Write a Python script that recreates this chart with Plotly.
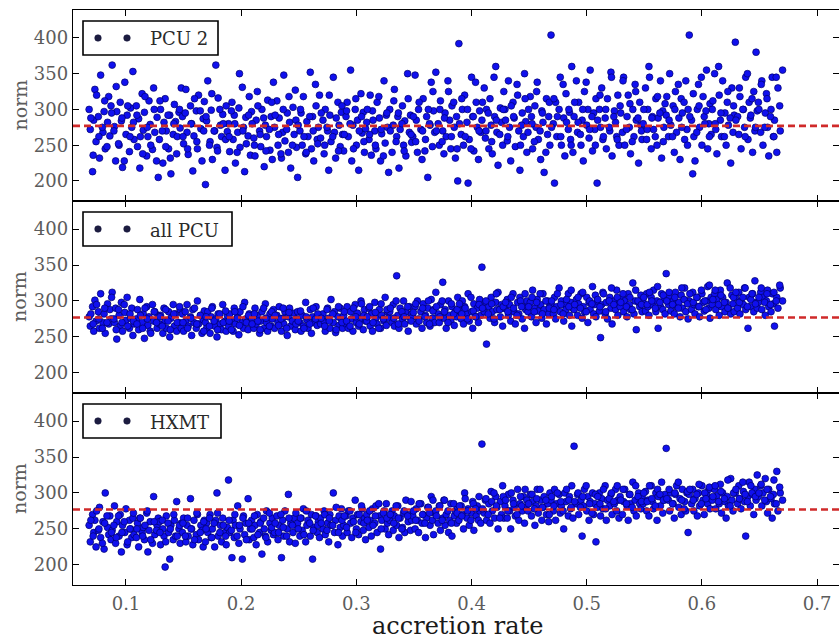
import plotly.graph_objects as go
from plotly.subplots import make_subplots

# accretion rate of each observation (shared by the three detectors)
accretion_rate = [
    0.068,0.069,0.071,0.072,0.073,0.074,0.076,0.077,0.078,0.080,0.081,0.082,0.084,0.085,0.086,0.087,
    0.088,0.090,0.091,0.092,0.094,0.095,0.096,0.097,0.099,0.100,0.101,0.103,0.104,0.105,0.106,0.107,
    0.109,0.110,0.111,0.112,0.114,0.115,0.116,0.118,0.119,0.120,0.121,0.123,0.124,0.125,0.127,0.128,
    0.129,0.130,0.132,0.133,0.134,0.135,0.137,0.138,0.139,0.141,0.142,0.143,0.144,0.146,0.147,0.148,
    0.149,0.150,0.152,0.153,0.154,0.156,0.157,0.158,0.159,0.161,0.162,0.163,0.165,0.166,0.167,0.168,
    0.169,0.170,0.171,0.173,0.174,0.175,0.177,0.178,0.179,0.180,0.182,0.183,0.184,0.186,0.187,0.188,
    0.189,0.190,0.192,0.193,0.194,0.195,0.197,0.198,0.199,0.201,0.202,0.203,0.204,0.206,0.207,0.208,
    0.209,0.211,0.212,0.213,0.214,0.216,0.217,0.218,0.220,0.221,0.222,0.223,0.225,0.226,0.227,0.228,
    0.229,0.231,0.232,0.233,0.235,0.236,0.237,0.238,0.240,0.241,0.242,0.243,0.245,0.246,0.247,0.248,
    0.249,0.251,0.252,0.253,0.254,0.256,0.257,0.258,0.260,0.261,0.262,0.263,0.265,0.266,0.267,0.268,
    0.269,0.271,0.272,0.273,0.275,0.276,0.277,0.278,0.280,0.281,0.282,0.284,0.285,0.286,0.287,0.288,
    0.289,0.291,0.292,0.293,0.295,0.296,0.297,0.299,0.300,0.301,0.302,0.304,0.305,0.306,0.307,0.308,
    0.309,0.311,0.312,0.313,0.314,0.316,0.317,0.318,0.320,0.321,0.322,0.324,0.325,0.326,0.327,0.328,
    0.329,0.331,0.332,0.333,0.335,0.336,0.337,0.338,0.340,0.341,0.342,0.343,0.345,0.346,0.347,0.348,
    0.349,0.351,0.352,0.353,0.354,0.356,0.357,0.358,0.360,0.361,0.362,0.364,0.365,0.366,0.367,0.368,
    0.369,0.371,0.372,0.373,0.375,0.376,0.377,0.378,0.380,0.381,0.382,0.383,0.385,0.386,0.387,0.388,
    0.389,0.391,0.392,0.393,0.394,0.396,0.397,0.398,0.400,0.401,0.402,0.404,0.405,0.406,0.407,0.408,
    0.409,0.411,0.412,0.413,0.415,0.416,0.417,0.418,0.420,0.421,0.422,0.423,0.425,0.426,0.427,0.428,
    0.429,0.431,0.432,0.433,0.434,0.436,0.437,0.438,0.440,0.441,0.442,0.444,0.445,0.446,0.447,0.448,
    0.449,0.451,0.452,0.453,0.455,0.456,0.457,0.458,0.460,0.461,0.462,0.463,0.465,0.466,0.467,0.468,
    0.469,0.471,0.472,0.473,0.474,0.476,0.477,0.478,0.480,0.481,0.482,0.484,0.485,0.486,0.487,0.488,
    0.489,0.491,0.492,0.493,0.495,0.496,0.497,0.498,0.500,0.501,0.502,0.503,0.505,0.506,0.507,0.508,
    0.509,0.511,0.512,0.513,0.514,0.516,0.517,0.518,0.520,0.521,0.522,0.524,0.525,0.526,0.527,0.528,
    0.529,0.531,0.532,0.533,0.535,0.536,0.537,0.538,0.540,0.541,0.542,0.543,0.545,0.546,0.547,0.548,
    0.549,0.551,0.552,0.553,0.554,0.556,0.557,0.558,0.560,0.561,0.562,0.564,0.565,0.566,0.567,0.568,
    0.569,0.571,0.572,0.573,0.575,0.576,0.577,0.578,0.580,0.581,0.582,0.583,0.585,0.586,0.587,0.588,
    0.589,0.591,0.592,0.593,0.594,0.596,0.597,0.598,0.600,0.601,0.602,0.604,0.605,0.606,0.607,0.608,
    0.609,0.611,0.612,0.613,0.615,0.616,0.617,0.618,0.620,0.621,0.622,0.623,0.625,0.626,0.627,0.628,
    0.629,0.631,0.632,0.633,0.634,0.636,0.637,0.638,0.640,0.641,0.642,0.644,0.645,0.646,0.647,0.648,
    0.649,0.651,0.652,0.653,0.655,0.656,0.657,0.658,0.660,0.661,0.662,0.663,0.665,0.666,0.668,0.670,
    # second pass of observations
    0.0695,0.0715,0.0745,0.0765,0.0795,0.0815,0.0835,0.0875,
    0.0895,0.0915,0.0935,0.0965,0.0985,0.1015,0.1035,0.1065,
    0.1095,0.1125,0.1145,0.1165,0.1185,0.1215,0.1245,0.1265,
    0.1295,0.1315,0.1345,0.1365,0.1385,0.1415,0.1445,0.1465,
    0.1495,0.1515,0.1535,0.1565,0.1595,0.1615,0.1645,0.1675,
    0.1695,0.1725,0.1745,0.1765,0.1795,0.1815,0.1845,0.1865,
    0.1895,0.1915,0.1945,0.1965,0.1985,0.2015,0.2045,0.2065,
    0.2095,0.2115,0.2145,0.2165,0.2195,0.2215,0.2245,0.2265,
    0.2295,0.2325,0.2345,0.2365,0.2395,0.2415,0.2445,0.2475,
    0.2495,0.2515,0.2545,0.2565,0.2595,0.2625,0.2645,0.2665,
    0.2695,0.2725,0.2745,0.2765,0.2795,0.2825,0.2845,0.2875,
    0.2895,0.2915,0.2945,0.2975,0.2995,0.3025,0.3045,0.3065,
    0.3095,0.3115,0.3145,0.3165,0.3195,0.3215,0.3235,0.3265,
    0.3295,0.3325,0.3345,0.3365,0.3395,0.3415,0.3445,0.3475,
    0.3495,0.3515,0.3545,0.3575,0.3595,0.3625,0.3635,0.3665,
    0.3695,0.3725,0.3745,0.3765,0.3795,0.3825,0.3845,0.3875,
    0.3895,0.3915,0.3945,0.3965,0.3995,0.4015,0.4035,0.4065,
    0.4095,0.4125,0.4145,0.4175,0.4195,0.4215,0.4245,0.4275,
    0.4295,0.4315,0.4345,0.4365,0.4395,0.4425,0.4435,0.4465,
    0.4495,0.4525,0.4545,0.4565,0.4595,0.4615,0.4645,0.4675,
    0.4695,0.4715,0.4745,0.4775,0.4795,0.4825,0.4845,0.4865,
    0.4895,0.4925,0.4945,0.4965,0.4995,0.5025,0.5045,0.5075,
    0.5095,0.5115,0.5145,0.5165,0.5195,0.5215,0.5235,0.5265,
    0.5295,0.5315,0.5345,0.5375,0.5395,0.5425,0.5445,0.5475,
    0.5495,0.5525,0.5545,0.5565,0.5595,0.5615,0.5635,0.5665,
    0.5695,0.5715,0.5745,0.5765,0.5795,0.5825,0.5845,0.5875,
    0.5895,0.5925,0.5955,0.5975,0.5995,0.6025,0.6035,0.6065,
    0.6095,0.6115,0.6145,0.6165,0.6195,0.6225,0.6245,0.6275,
    0.6295,0.6325,0.6355,0.6375,0.6395,0.6425,0.6435,0.6465,
    0.6495,0.6515,0.6545,0.6565,0.6595,0.6625,0.6645,0.6675,
]

norm_pcu2 = [
    300,272,213,285,328,255,290,232,348,268,297,245,282,318,263,305,
    362,276,228,297,250,310,284,219,338,265,292,241,302,275,353,258,
    305,248,287,218,322,271,296,235,262,312,279,244,330,268,289,205,
    258,300,225,282,315,270,245,292,210,265,307,283,238,296,274,330,
    290,252,328,268,237,305,280,214,263,298,245,320,273,228,287,311,
    195,284,340,255,299,230,270,362,247,316,278,262,293,215,305,269,
    280,241,310,258,292,225,268,302,247,331,275,213,289,263,318,236,
    297,260,235,285,325,270,248,300,220,278,262,313,243,290,230,338,
    275,312,250,288,232,268,348,256,295,240,282,218,303,265,327,247,
    205,270,295,250,318,238,283,262,352,245,290,228,305,258,275,320,
    260,285,238,300,270,215,292,255,345,268,232,310,278,248,296,265,
    242,290,310,262,355,228,278,300,250,285,215,322,267,296,240,273,
    282,258,320,236,298,270,245,310,288,228,266,340,253,292,275,212,
    300,240,278,328,262,290,218,272,305,250,284,235,315,268,292,254,
    262,348,285,240,300,272,230,315,258,290,205,278,338,248,298,268,
    352,280,250,312,270,238,295,262,325,285,245,305,275,232,290,200,
    392,265,300,250,320,282,197,258,345,290,242,310,275,230,298,268,
    285,330,260,300,245,315,278,238,290,360,268,222,302,282,250,325,
    300,256,340,275,228,310,288,248,320,270,215,295,262,350,283,240,
    268,318,290,245,305,275,338,258,230,298,282,212,315,265,290,250,
    404,280,197,310,262,300,345,250,288,235,322,272,296,258,360,240,
    290,340,268,310,250,285,228,325,278,300,260,355,242,295,272,315,
    197,300,275,330,258,288,245,315,270,352,235,298,282,262,320,250,
    305,268,345,250,290,320,275,238,300,262,335,285,225,310,278,258,
    280,330,258,300,360,245,290,272,315,250,288,340,232,298,275,308,
    292,262,350,278,305,240,325,268,288,230,315,295,258,340,272,300,
    404,285,210,262,228,300,335,275,250,318,290,355,245,280,308,265,
    300,350,272,238,320,285,262,340,295,250,310,278,225,330,268,292,
    394,290,265,318,245,300,275,345,258,310,288,240,325,270,380,298,
    310,268,340,250,295,322,275,235,300,345,262,285,240,330,270,355,
    288,236,320,262,275,312,248,295,
    270,332,252,288,228,305,262,282,
    292,262,238,318,275,250,300,228,
    312,270,248,292,232,280,262,300,
    262,295,245,280,315,255,298,270,
    290,250,322,270,242,300,280,258,
    262,298,280,240,350,270,252,292,
    280,250,305,265,288,242,272,310,
    292,265,238,300,272,318,250,285,
    278,300,262,240,290,270,335,252,
    295,250,275,320,262,288,242,305,
    265,298,280,245,315,270,290,255,
    300,265,285,250,318,272,235,295,
    270,312,255,295,280,242,350,265,
    290,255,310,270,242,300,280,325,
    270,300,255,288,340,262,310,245,
    280,315,262,300,245,290,338,270,
    310,270,295,255,345,285,265,300,
    285,262,305,290,335,250,278,315,
    300,280,255,325,270,295,240,310,
    275,315,290,262,335,282,300,250,
    310,282,265,300,338,272,290,250,
    285,320,262,300,275,345,290,258,
    295,340,272,308,255,325,288,270,
    300,272,345,288,262,318,295,255,
    318,285,262,300,335,275,310,250,
    290,322,268,305,345,280,298,262,
    312,280,360,295,262,325,288,305,
    285,330,300,262,350,292,315,275,
    300,335,275,315,290,262,345,305,
]

norm_all_pcu = [
    278,265,292,258,301,272,285,262,310,270,282,255,296,268,288,275,
    312,270,290,247,280,265,298,258,284,273,305,262,276,290,252,268,
    275,288,260,302,270,282,248,292,266,278,258,295,272,285,262,280,
    268,280,255,290,272,262,285,250,276,295,265,282,258,270,288,262,
    282,258,272,295,265,278,252,288,270,262,300,268,280,255,274,286,
    270,262,285,255,278,292,265,275,250,282,268,260,295,272,258,280,
    265,282,272,258,290,268,278,253,285,270,262,298,275,260,282,270,
    276,262,290,268,280,255,272,285,262,296,270,258,282,265,275,288,
    262,280,270,292,258,276,268,285,252,278,290,265,272,283,260,275,
    285,270,258,280,265,298,274,262,288,255,278,270,292,266,280,272,
    268,282,272,258,290,276,262,302,270,285,256,278,266,290,275,262,
    280,268,292,262,285,275,258,295,270,283,265,300,275,260,288,272,
    272,290,265,282,258,298,276,268,288,262,280,272,305,266,285,276,
    285,270,295,265,335,280,262,290,275,300,268,285,258,292,276,282,
    278,292,268,300,275,285,262,296,280,270,290,265,302,276,288,270,
    312,282,270,295,326,276,288,262,300,280,272,292,266,285,278,305,
    288,275,300,268,292,282,310,272,285,262,296,278,290,270,302,280,
    347,285,298,240,292,276,305,285,270,298,288,312,278,295,265,290,
    290,302,280,295,272,310,285,268,298,282,305,275,292,262,288,300,
    285,298,278,315,290,270,302,286,295,276,310,288,268,300,282,294,
    296,282,305,275,292,318,285,300,272,295,288,310,280,298,265,290,
    288,302,280,296,310,276,292,285,305,270,298,288,320,282,295,278,
    300,286,249,295,312,282,298,275,305,290,268,300,288,315,280,296,
    292,305,285,300,278,310,295,288,325,282,300,260,298,292,308,285,
    298,286,310,292,280,305,295,315,285,300,262,292,310,288,302,282,
    338,295,305,286,300,282,312,292,298,278,308,290,318,285,300,275,
    300,288,312,295,282,305,292,278,310,298,286,300,320,290,276,305,
    295,310,288,302,280,315,292,305,285,298,325,290,282,308,296,285,
    305,290,312,282,300,295,318,288,262,305,292,310,285,328,298,290,
    298,312,288,305,280,300,315,292,285,310,296,265,305,290,318,300,
    282,268,295,275,262,290,270,305,
    275,260,288,270,295,265,282,272,
    268,280,262,290,275,255,285,270,
    278,265,288,272,260,282,270,292,
    270,285,262,276,290,268,280,258,
    278,265,290,272,260,282,270,286,
    272,260,285,276,266,292,270,280,
    268,282,272,260,290,276,265,285,
    280,266,275,290,262,284,272,268,
    272,286,262,278,268,290,275,282,
    276,265,288,272,282,260,292,270,
    285,272,265,290,278,268,296,280,
    278,292,270,284,262,296,275,288,
    290,276,300,268,285,278,292,272,
    284,296,272,290,278,300,268,286,
    292,278,300,285,270,296,282,288,
    296,282,290,275,305,286,278,295,
    290,300,282,296,275,310,288,292,
    298,285,305,290,280,300,292,310,
    292,305,285,298,310,282,300,290,
    300,288,310,295,282,302,292,315,
    295,305,290,312,285,300,296,308,
    302,292,310,285,300,318,295,305,
    298,310,292,305,288,315,300,295,
    305,295,312,300,290,320,298,308,
    300,312,295,305,290,318,302,296,
    310,298,305,292,315,300,288,322,
    302,315,295,308,298,290,318,305,
    312,298,305,318,292,302,310,296,
    305,318,298,310,295,312,300,322,
]

norm_hxmt = [
    255,232,270,245,262,225,248,280,238,260,222,300,252,242,268,235,
    248,282,230,260,240,270,218,255,245,278,228,262,250,238,265,242,
    238,258,225,265,245,252,235,272,218,248,260,230,295,242,255,265,
    260,228,250,240,197,268,245,208,255,235,262,240,288,250,230,258,
    245,265,232,255,240,292,250,228,262,242,270,235,255,248,225,262,
    232,258,245,270,238,250,225,262,300,240,255,232,265,245,228,252,
    318,245,210,262,238,255,282,230,250,208,268,242,258,292,235,250,
    262,238,255,228,270,245,260,215,250,240,275,232,258,248,265,242,
    245,268,235,255,210,262,240,275,250,298,232,258,245,265,230,255,
    258,240,265,248,278,232,255,262,240,270,208,252,268,245,260,238,
    265,250,275,242,258,232,270,255,300,245,262,228,268,252,278,240,
    255,268,245,275,258,238,265,290,250,270,242,260,278,248,265,235,
    270,252,262,240,278,258,282,245,268,222,262,275,250,285,258,242,
    262,275,248,268,255,282,238,265,252,272,245,290,260,270,248,262,
    268,250,278,262,245,285,258,270,238,265,280,255,295,262,242,272,
    275,258,282,248,265,290,255,270,245,262,285,240,268,275,258,280,
    262,282,270,250,300,265,278,255,272,288,248,268,282,262,275,258,
    368,272,290,262,285,258,302,275,265,295,280,250,288,270,310,265,
    282,265,298,275,250,290,280,268,305,262,285,275,295,258,280,290,
    275,298,268,288,255,282,305,272,290,262,280,295,270,285,260,300,
    290,275,305,262,285,298,272,282,250,300,288,268,295,278,310,265,
    365,285,298,270,290,240,282,305,275,295,262,288,300,270,285,232,
    280,300,268,292,278,310,262,290,282,298,270,285,305,275,290,265,
    295,270,288,305,282,262,298,285,315,275,290,268,300,285,278,295,
    285,302,275,290,268,310,288,278,300,262,295,282,315,272,290,298,
    362,290,275,300,285,265,298,310,280,292,270,305,288,275,300,245,
    298,285,305,275,292,268,300,282,310,290,270,298,285,305,278,292,
    290,305,278,296,285,312,272,300,288,265,295,282,320,290,275,300,
    300,285,310,292,278,302,288,240,295,315,282,298,270,305,290,325,
    295,310,282,300,320,288,272,305,292,265,298,285,330,275,300,290,
    262,240,275,250,230,258,268,245,
    255,238,268,245,260,232,250,272,
    250,265,240,255,275,235,260,248,
    245,262,232,258,250,270,240,255,
    258,240,265,250,235,272,245,260,
    250,265,238,258,272,245,255,240,
    262,248,270,240,255,265,235,258,
    250,268,242,258,265,238,272,252,
    258,245,270,252,240,265,255,272,
    250,265,242,275,258,248,268,255,
    258,270,248,265,255,280,245,262,
    268,252,275,260,245,270,282,258,
    262,275,255,268,285,250,272,265,
    270,258,282,265,250,275,268,288,
    275,262,285,270,258,280,272,290,
    268,282,262,290,275,258,285,272,
    282,268,292,275,262,285,278,295,
    278,292,270,288,300,282,265,295,
    290,275,300,285,270,295,282,305,
    285,298,278,292,305,280,290,270,
    295,282,300,288,275,305,290,280,
    288,300,280,295,310,285,272,298,
    295,285,305,278,292,300,288,310,
    290,305,285,298,280,310,295,288,
    300,288,310,292,282,305,298,290,
    292,305,285,300,315,290,278,302,
    305,290,298,312,285,300,292,308,
    295,310,288,302,292,318,282,300,
    305,292,315,298,288,310,300,295,
    300,312,290,305,295,318,285,308,
]

panel_labels = ["PCU 2", "all PCU", "HXMT"]
panel_norms = [norm_pcu2, norm_all_pcu, norm_hxmt]
reference_norm = 277
x_ticks = [0.1, 0.2, 0.3, 0.4, 0.5, 0.6, 0.7]
y_ticks = [200, 250, 300, 350, 400]

for lbl, vals in zip(panel_labels, panel_norms):
    if len(vals) != len(accretion_rate):
        raise ValueError(f"{lbl}: {len(vals)} values vs {len(accretion_rate)} rates")

W, H = 839, 643
SERIF = "DejaVu Serif"


def px(x):
    return x / W


def py(y):
    return 1 - y / H


# panel frame positions in pixels (top, bottom)
frames = [(10, 201), (201, 393), (393, 585)]
legend_right = [218, 232, 221]

fig = make_subplots(rows=3, cols=1, shared_xaxes=True, vertical_spacing=0)

for i, (lbl, vals) in enumerate(zip(panel_labels, panel_norms)):
    fig.add_trace(
        go.Scatter(
            x=accretion_rate, y=vals, mode="markers", name=lbl, showlegend=False,
            marker=dict(size=6.8, color="#1010ee", line=dict(width=0.7, color="#00006a")),
        ),
        row=i + 1, col=1,
    )

shapes = []
annotations = []
for i, ((top, bot), lbl) in enumerate(zip(frames, panel_labels)):
    n = "" if i == 0 else str(i + 1)
    axis_common = dict(
        showline=True, linecolor="black", linewidth=1.4, mirror="ticks",
        ticks="inside", ticklen=6, tickwidth=1.3, tickcolor="black",
        showgrid=False, zeroline=False,
        tickfont=dict(family=SERIF, size=18, color="#5c5c5c"),
    )
    fig.layout["xaxis" + n].update(
        domain=[px(73), 1.0], range=[0.054, 0.719], tickvals=x_ticks,
        ticktext=[f"{t:.1f}" for t in x_ticks], showticklabels=(i == 2),
        ticklabelstandoff=2, **axis_common,
    )
    fig.layout["yaxis" + n].update(
        domain=[py(bot), py(top)], range=[172, 439], tickvals=y_ticks,
        ticklabelstandoff=0, **axis_common,
    )
    # dashed reference level
    shapes.append(dict(
        type="line", xref="x" + n + " domain", yref="y" + n,
        x0=0, x1=1, y0=reference_norm, y1=reference_norm,
        line=dict(color="#d02a2a", width=2.6, dash="7px,4px"), layer="above",
    ))
    # legend box
    bt, bb = top + 11, top + 45
    shapes.append(dict(
        type="rect", xref="paper", yref="paper",
        x0=px(83), x1=px(legend_right[i]), y0=py(bb), y1=py(bt),
        line=dict(color="black", width=1.6), fillcolor="white", layer="above",
    ))
    cy = (bt + bb) / 2
    for cx in (98, 127):
        shapes.append(dict(
            type="circle", xref="paper", yref="paper",
            x0=px(cx - 3.3), x1=px(cx + 3.3), y0=py(cy + 3.3), y1=py(cy - 3.3),
            line=dict(color="#15153a", width=0.5), fillcolor="#1c1c40", layer="above",
        ))
    annotations.append(dict(
        text=lbl, xref="paper", yref="paper", x=px(148), y=py(cy + 1),
        xanchor="left", yanchor="middle", showarrow=False,
        font=dict(family=SERIF, size=18, color="#2a2a2a"),
    ))
    annotations.append(dict(
        text="norm", xref="paper", yref="paper", x=px(19), y=py((top + bot) / 2),
        xanchor="center", yanchor="middle", textangle=-90, showarrow=False,
        font=dict(family=SERIF, size=19, color="#5c5c5c"),
    ))

annotations.append(dict(
    text="accretion rate", xref="paper", yref="paper", x=px(457), y=py(626),
    xanchor="center", yanchor="middle", showarrow=False,
    font=dict(family=SERIF, size=24, color="#1a1a1a"),
))

fig.update_layout(
    width=W, height=H, margin=dict(l=0, r=0, t=0, b=0),
    paper_bgcolor="white", plot_bgcolor="white",
    shapes=shapes, annotations=annotations, showlegend=False,
)

fig.write_html("out.html")
